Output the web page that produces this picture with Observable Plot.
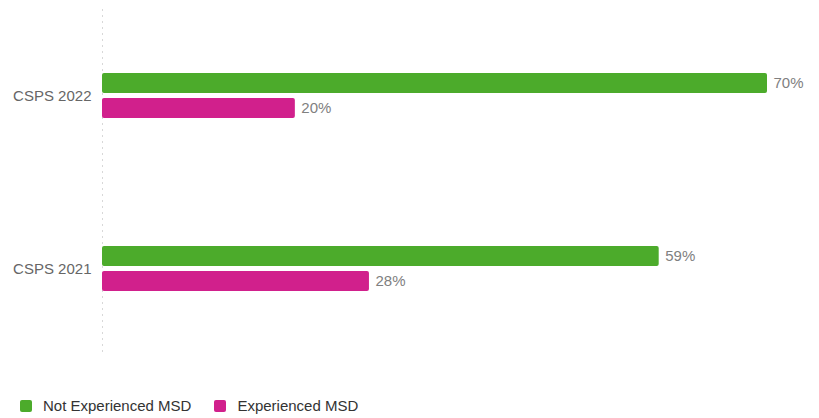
<!DOCTYPE html>
<html><head><meta charset="utf-8">
<script src="https://cdn.jsdelivr.net/npm/d3@7"></script>
<script src="https://cdn.jsdelivr.net/npm/@observablehq/plot@0.6"></script>
<style>
body{margin:0;background:#fff;font-family:"Liberation Sans",Arial,sans-serif;}
#legend{display:flex;gap:0;margin-left:20px;margin-top:27px;font-size:15px;color:#333;}
.item{display:flex;align-items:center;}
.sw{width:12px;height:12px;border-radius:2px;margin-right:11px;}
</style></head>
<body><div id="chart"></div><div id="legend"></div>
<script>
const categories = ["CSPS 2022", "CSPS 2021"];
const seriesNames = ["Not Experienced MSD", "Experienced MSD"];
const notExperienced = [70.0, 58.6];
const experienced = [20.3, 28.1];
const colors = ["#4cab2b", "#d1208c"];

const data = [];
categories.forEach((c, i) => {
  data.push({cat: c, series: seriesNames[0], value: notExperienced[i]});
  data.push({cat: c, series: seriesNames[1], value: experienced[i]});
});

const chart = Plot.plot({
  width: 819, height: 370,
  marginLeft: 102, marginRight: 52, marginTop: 8, marginBottom: 15,
  style: {fontFamily: '"Liberation Sans", Arial, sans-serif', fontSize: "15px"},
  x: {domain: [0, 70], axis: null},
  y: {domain: seriesNames, axis: null, paddingInner: 0.2, paddingOuter: 2.47},
  fy: {domain: categories, padding: 0, label: null},
  color: {domain: seriesNames, range: colors},
  marks: [
    Plot.ruleX([0], {stroke: "#d8d8d8", strokeDasharray: "2,4", strokeWidth: 1}),
    Plot.barX(data, {x: "value", y: "series", fy: "cat", fill: "series", rx: 2}),
    Plot.text(data, {x: "value", y: "series", fy: "cat", text: d => Math.round(d.value) + "%", textAnchor: "start", dx: 6, fill: "#808080", fontSize: 15}),
    Plot.axisFy({anchor: "left", tickSize: 0, tickPadding: 11, color: "#666", fontSize: 15, label: null})
  ]
});
document.getElementById("chart").appendChild(chart);

const legend = document.getElementById("legend");
seriesNames.forEach((s, i) => {
  const it = document.createElement("div");
  it.className = "item";
  it.style.marginRight = "23px";
  it.innerHTML = `<span class="sw" style="background:${colors[i]}"></span><span>${s}</span>`;
  legend.appendChild(it);
});
</script></body></html>
